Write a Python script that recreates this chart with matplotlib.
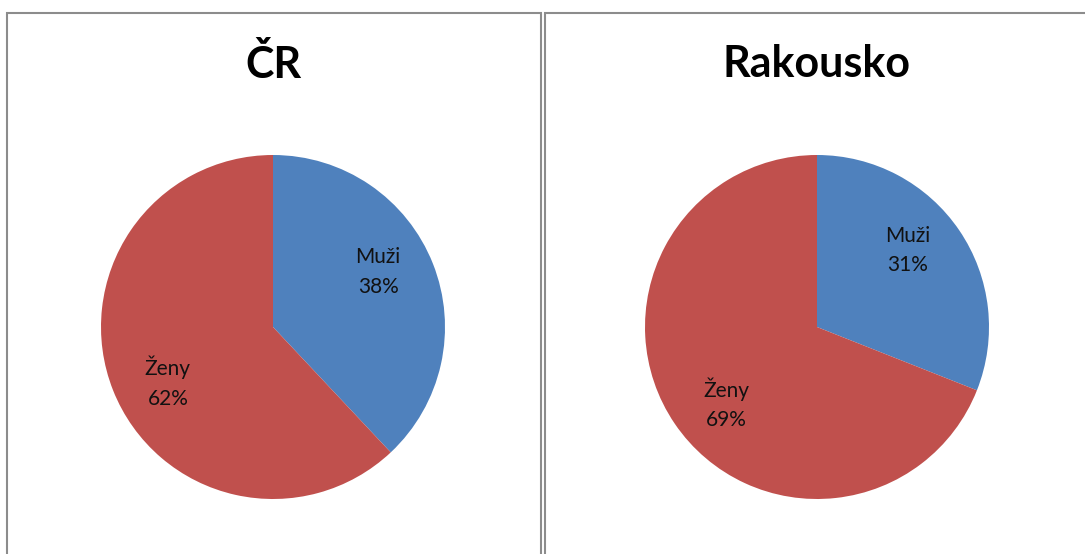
import matplotlib
matplotlib.use("Agg")
import matplotlib.pyplot as plt
import numpy as np
from matplotlib.patches import Rectangle

plt.rcParams['font.family'] = ['Lato', 'DejaVu Sans']

# data
countries = ['ČR', 'Rakousko']
groups = ['Muži', 'Ženy']
shares = {
    'ČR': [38, 62],
    'Rakousko': [31, 69],
}
colors = ['#4F81BD', '#C0504D']

W, H = 1085, 554
fig = plt.figure(figsize=(W / 100, H / 100), dpi=100)

# panel frames (chart area borders)
for x0, x1 in [(7, 541), (545, 1090)]:
    fig.patches.append(Rectangle((x0 / W, -0.05), (x1 - x0) / W, (H - 13) / H + 0.05,
                                 transform=fig.transFigure, fill=False,
                                 edgecolor='#8c8c8c', linewidth=1.5))

centers = [273, 817]
R = 172
cy = 327

for country, cx in zip(countries, centers):
    ax = fig.add_axes([(cx - R) / W, (H - cy - R) / H, 2 * R / W, 2 * R / H])
    vals = shares[country]
    wedges, _ = ax.pie(vals, colors=colors, startangle=90, counterclock=False,
                       wedgeprops=dict(linewidth=0))
    ax.set_xlim(-1, 1)
    ax.set_ylim(-1, 1)
    ax.set_aspect('equal')
    ax.axis('off')

    # labels a bit rotated from slice middle, like the Excel layout
    for w, g, v in zip(wedges, groups, vals):
        ang = np.deg2rad((w.theta1 + w.theta2) / 2 + 6)
        ax.text(0.69 * np.cos(ang), 0.69 * np.sin(ang), f'{g}\n{v}%',
                ha='center', va='center', fontsize=15, linespacing=1.6,
                color='#111111')

    fig.text(cx / W, (H - 64) / H, country, ha='center', va='center',
             fontsize=31, fontweight='bold')

fig.savefig('out.png', dpi=100)
